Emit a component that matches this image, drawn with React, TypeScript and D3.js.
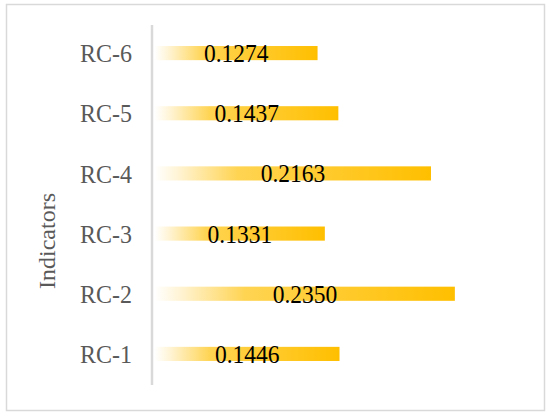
import React from "react";
import * as d3 from "d3";

const categories = ["RC-6", "RC-5", "RC-4", "RC-3", "RC-2", "RC-1"];
const values = [0.1274, 0.1437, 0.2163, 0.1331, 0.235, 0.1446];
const valueLabels = ["0.1274", "0.1437", "0.2163", "0.1331", "0.2350", "0.1446"];
const axisTitle = "Indicators";

const W = 550;
const H = 418;
const FONT = "'Liberation Serif', 'Times New Roman', serif";

export default function App() {
  const x = d3.scaleLinear().domain([0, 0.25]).range([155, 474]);
  const y = d3
    .scaleBand<string>()
    .domain(categories)
    .range([23, 384])
    .paddingInner(0.765)
    .paddingOuter(0.3825);

  return (
    <div style={{ position: "fixed", left: 0, top: 0 }}>
      <svg width={W} height={H} style={{ display: "block", background: "#fff" }}>
        <defs>
          <linearGradient id="barGrad" x1="0" y1="0" x2="1" y2="0">
            <stop offset="0%" stopColor="#ffffff" />
            <stop offset="8%" stopColor="#fff4d6" />
            <stop offset="30%" stopColor="#ffd452" />
            <stop offset="100%" stopColor="#ffbf00" />
          </linearGradient>
        </defs>
        <rect x={6.5} y={4.5} width={538} height={406} fill="#fff" stroke="#d9d9d9" strokeWidth={1.5} />
        {categories.map((c, i) => {
          const yy = y(c) as number;
          const bw = y.bandwidth();
          const x0 = x(0);
          const x1 = x(values[i]);
          const cy = yy + bw / 2;
          return (
            <g key={c}>
              <rect x={x0} y={yy} width={x1 - x0} height={bw} fill="url(#barGrad)" />
              <text
                transform={`translate(${(x0 + x1) / 2},${cy}) scale(1,1.06)`}
                dy="0.36em"
                textAnchor="middle"
                fontFamily={FONT}
                fontSize={23.5}
                fill="#000"
              >
                {valueLabels[i]}
              </text>
              <text
                transform={`translate(132,${cy}) scale(1,1.06)`}
                dy="0.36em"
                textAnchor="end"
                fontFamily={FONT}
                fontSize={24}
                fill="#595959"
              >
                {c}
              </text>
            </g>
          );
        })}
        <line x1={152} x2={152} y1={25} y2={385} stroke="#d9d9d9" strokeWidth={2.5} />
        <text
          transform={`translate(55,241) rotate(-90)`}
          textAnchor="middle"
          fontFamily={FONT}
          fontSize={24}
          fill="#595959"
        >
          {axisTitle}
        </text>
      </svg>
    </div>
  );
}
